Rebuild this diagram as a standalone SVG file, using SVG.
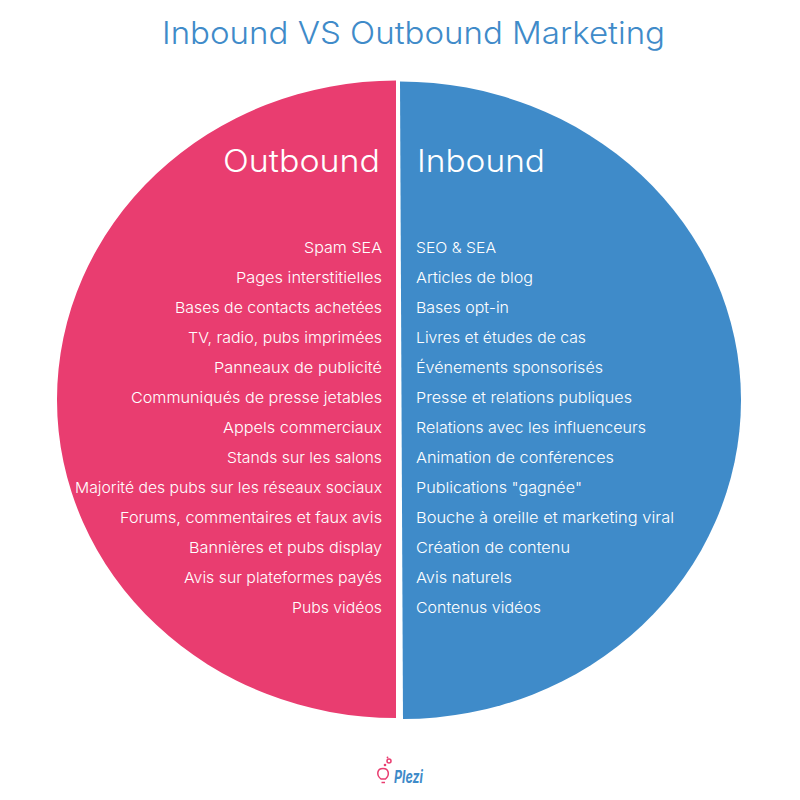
<svg xmlns="http://www.w3.org/2000/svg" width="800" height="800" viewBox="0 0 800 800">
<style>
text{font-family:Inter,"Open Sans","Liberation Sans",sans-serif}
.t{fill:#3f8bc9;font-size:31px;font-weight:300}
.h{fill:#fff;font-size:31px;font-weight:300}
.i{fill:#fff;font-size:15px;font-weight:300}
.e{text-anchor:end}
</style>
<rect width="800" height="800" fill="#fff"/>
<text id="title" class="t" x="162" y="44" textLength="503" lengthAdjust="spacingAndGlyphs">Inbound VS Outbound Marketing</text>
<g id="outbound">
<path d="M396 80.500A339 319 0 0 0 57 400A339 318 0 0 0 396 718Z" fill="#e93d70"/>
<text class="h e" x="380" y="172" textLength="157" lengthAdjust="spacingAndGlyphs">Outbound</text>
<text class="i e" x="382" y="253" textLength="78" lengthAdjust="spacingAndGlyphs">Spam SEA</text>
<text class="i e" x="382" y="283" textLength="146" lengthAdjust="spacingAndGlyphs">Pages interstitielles</text>
<text class="i e" x="382" y="313" textLength="207" lengthAdjust="spacingAndGlyphs">Bases de contacts achetées</text>
<text class="i e" x="382" y="343" textLength="194" lengthAdjust="spacingAndGlyphs">TV, radio, pubs imprimées</text>
<text class="i e" x="382" y="373" textLength="168" lengthAdjust="spacingAndGlyphs">Panneaux de publicité</text>
<text class="i e" x="382" y="403" textLength="251" lengthAdjust="spacingAndGlyphs">Communiqués de presse jetables</text>
<text class="i e" x="382" y="433" textLength="159" lengthAdjust="spacingAndGlyphs">Appels commerciaux</text>
<text class="i e" x="382" y="463" textLength="155" lengthAdjust="spacingAndGlyphs">Stands sur les salons</text>
<text class="i e" x="382" y="493" textLength="307" lengthAdjust="spacingAndGlyphs">Majorité des pubs sur les réseaux sociaux</text>
<text class="i e" x="382" y="523" textLength="262" lengthAdjust="spacingAndGlyphs">Forums, commentaires et faux avis</text>
<text class="i e" x="382" y="553" textLength="193" lengthAdjust="spacingAndGlyphs">Bannières et pubs display</text>
<text class="i e" x="382" y="583" textLength="198" lengthAdjust="spacingAndGlyphs">Avis sur plateformes payés</text>
<text class="i e" x="382" y="613" textLength="90" lengthAdjust="spacingAndGlyphs">Pubs vidéos</text>
</g>
<g id="inbound">
<path d="M400 81.500A341 318.500 0 0 1 741 400A338 319 0 0 1 403 719Z" fill="#3f8bc9"/>
<text class="h" x="417" y="172" textLength="128" lengthAdjust="spacingAndGlyphs">Inbound</text>
<text class="i" x="416" y="253" textLength="80" lengthAdjust="spacingAndGlyphs">SEO &amp; SEA</text>
<text class="i" x="416" y="283" textLength="117" lengthAdjust="spacingAndGlyphs">Articles de blog</text>
<text class="i" x="416" y="313" textLength="93" lengthAdjust="spacingAndGlyphs">Bases opt-in</text>
<text class="i" x="416" y="343" textLength="170" lengthAdjust="spacingAndGlyphs">Livres et études de cas</text>
<text class="i" x="416" y="373" textLength="187" lengthAdjust="spacingAndGlyphs">Événements sponsorisés</text>
<text class="i" x="416" y="403" textLength="216" lengthAdjust="spacingAndGlyphs">Presse et relations publiques</text>
<text class="i" x="416" y="433" textLength="230" lengthAdjust="spacingAndGlyphs">Relations avec les influenceurs</text>
<text class="i" x="416" y="463" textLength="198" lengthAdjust="spacingAndGlyphs">Animation de conférences</text>
<text class="i" x="416" y="493" textLength="166" lengthAdjust="spacingAndGlyphs">Publications "gagnée"</text>
<text class="i" x="416" y="523" textLength="258" lengthAdjust="spacingAndGlyphs">Bouche à oreille et marketing viral</text>
<text class="i" x="416" y="553" textLength="154" lengthAdjust="spacingAndGlyphs">Création de contenu</text>
<text class="i" x="416" y="583" textLength="96" lengthAdjust="spacingAndGlyphs">Avis naturels</text>
<text class="i" x="416" y="613" textLength="125" lengthAdjust="spacingAndGlyphs">Contenus vidéos</text>
</g>
<g id="logo">
<g fill="none" stroke="#e93d70" stroke-width="1.500">
<path d="M381 779C376 775 377 768.500 383 768.500C389 768.500 390 775 385.500 779Z"/>
<path d="M381.500 782.500H385"/>
<circle cx="389" cy="761" r="2"/>
</g>
<circle cx="385" cy="765" r="1.300" fill="#e93d70"/>
<circle cx="387.500" cy="757.500" r="0.900" fill="#e93d70"/>
<text x="394" y="782.500" font-size="18" font-weight="700" font-style="italic" fill="#3f8bc9" textLength="29" lengthAdjust="spacingAndGlyphs">Plezi</text>
</g>
</svg>
